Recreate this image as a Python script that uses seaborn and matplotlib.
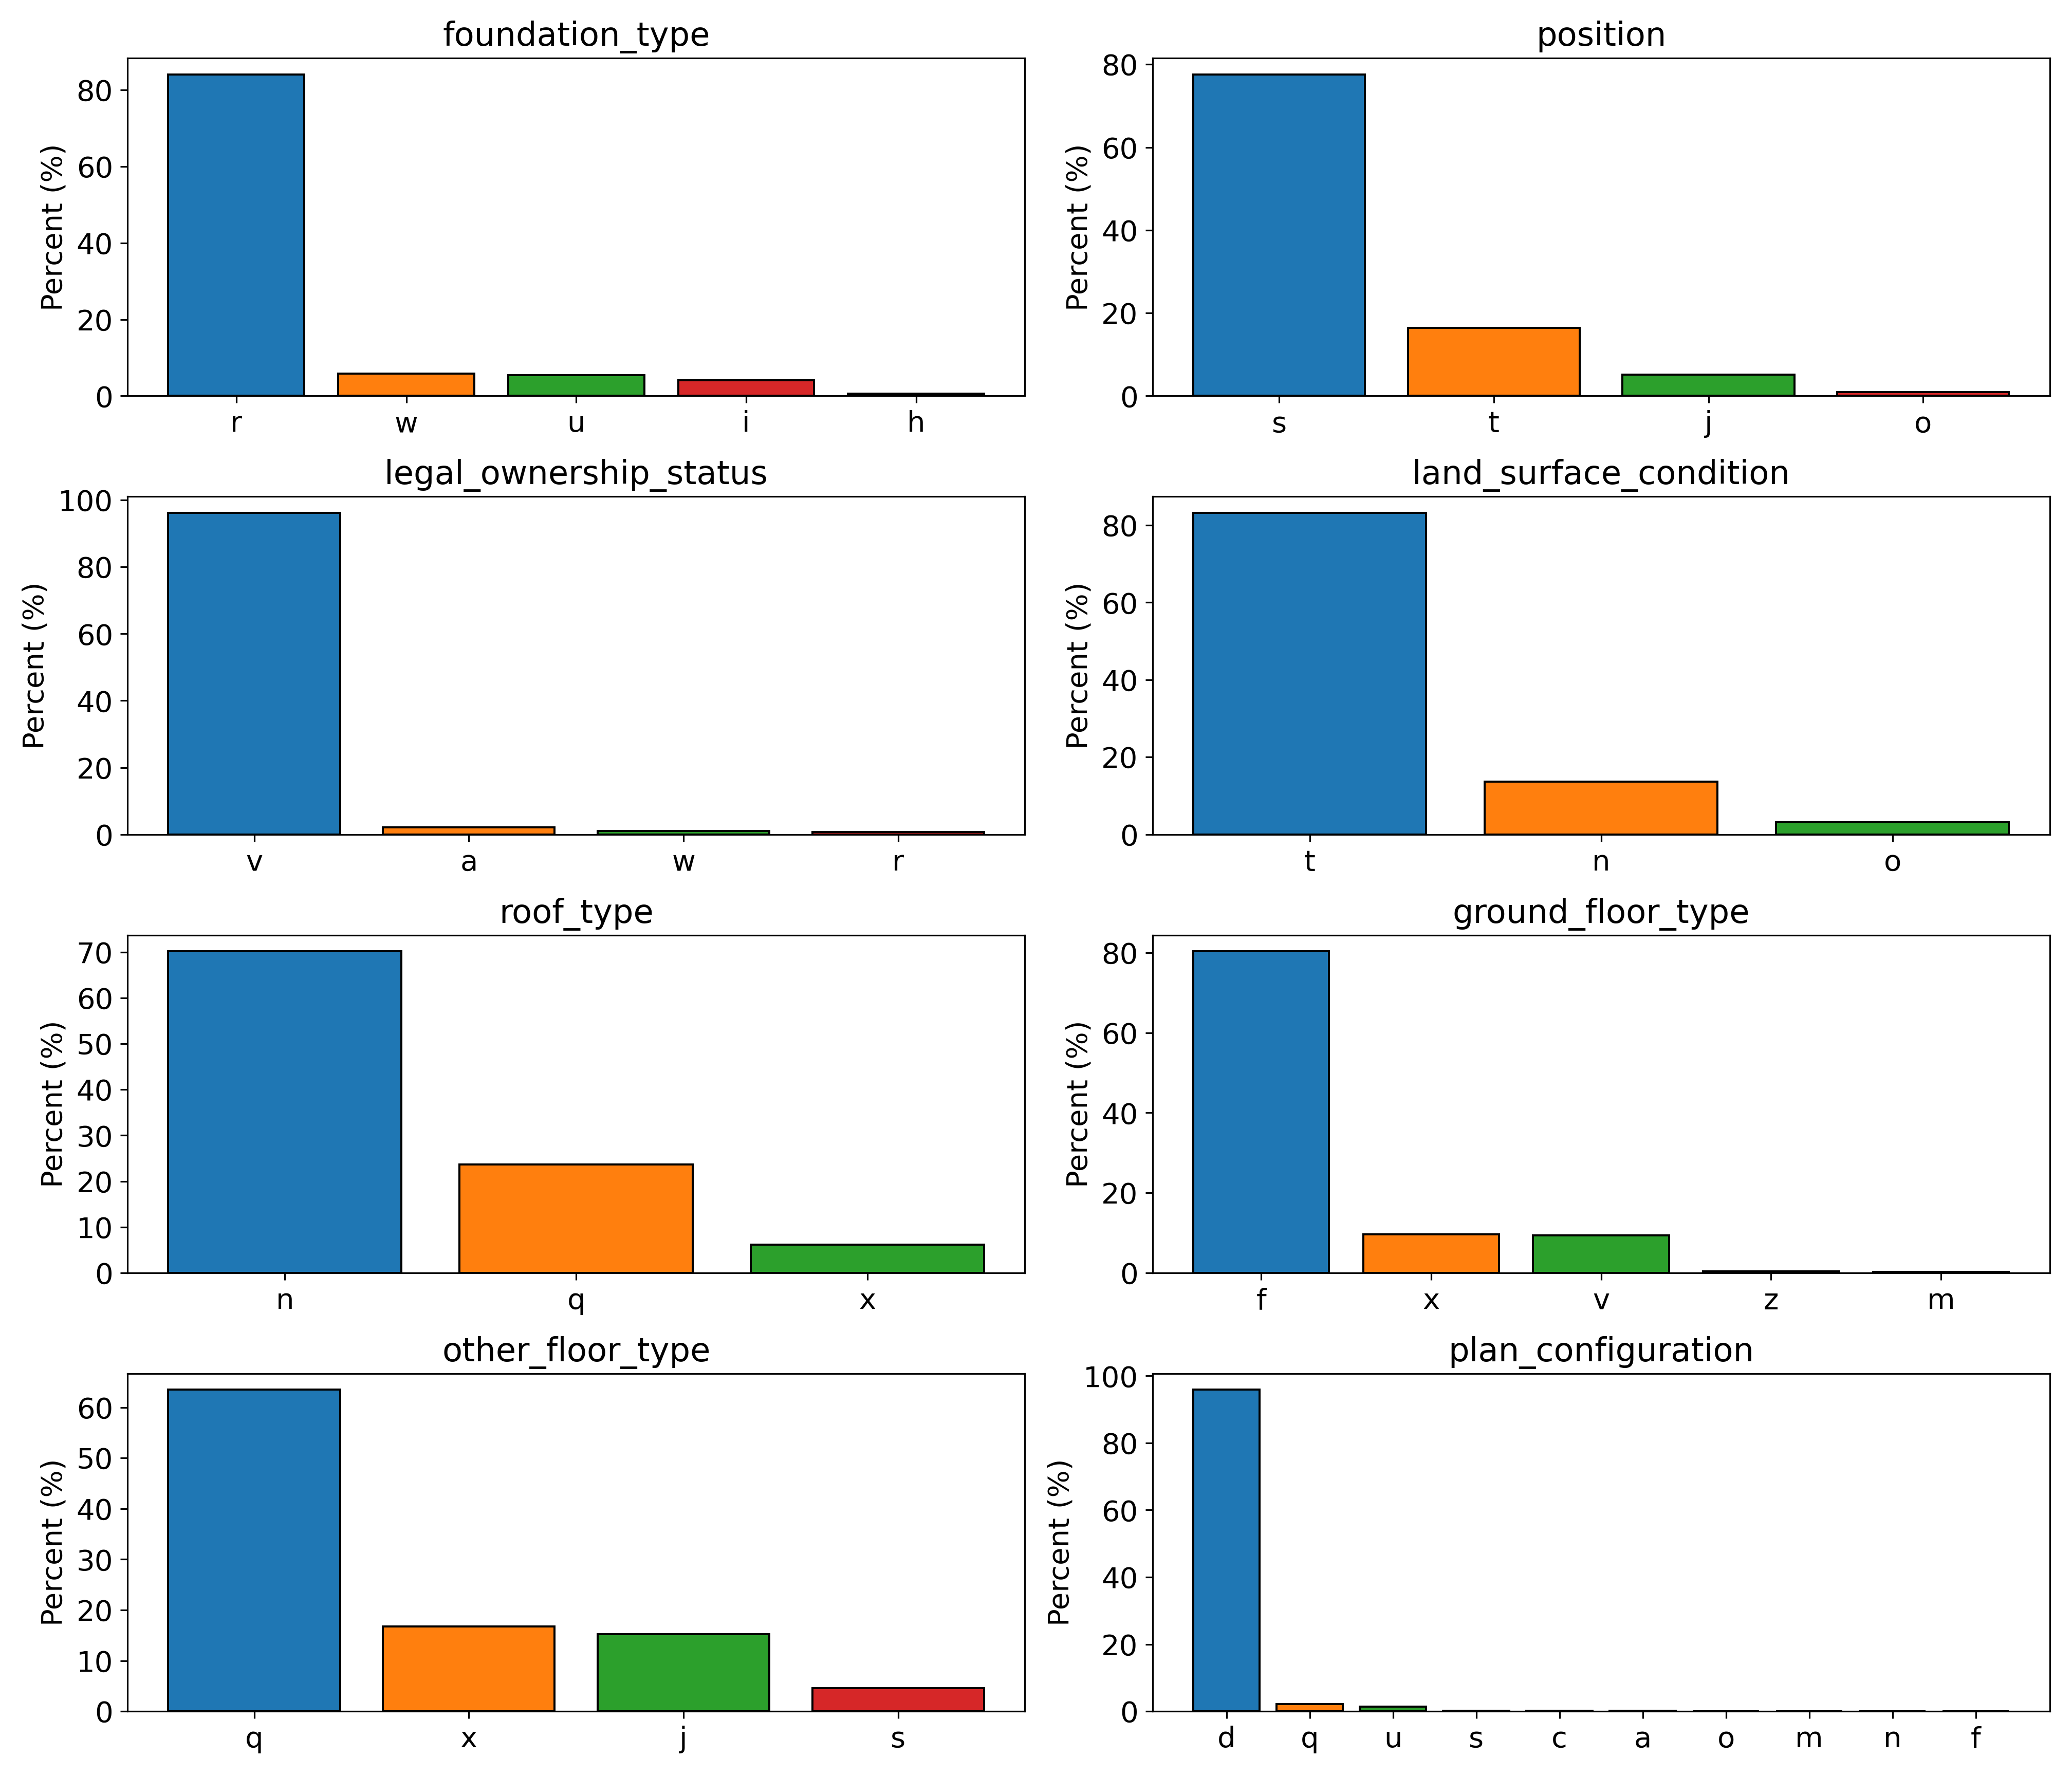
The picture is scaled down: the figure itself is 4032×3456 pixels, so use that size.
import matplotlib
matplotlib.use("Agg")
import matplotlib.pyplot as plt
from matplotlib.ticker import MaxNLocator
import seaborn as sns

# percent of buildings per category
foundation_type = ["r", "w", "u", "i", "h"]
foundation_pct = [84.1, 5.8, 5.5, 4.1, 0.6]

position = ["s", "t", "j", "o"]
position_pct = [77.6, 16.4, 5.1, 0.9]

legal_ownership_status = ["v", "a", "w", "r"]
legal_ownership_pct = [96.2, 2.1, 1.0, 0.7]

land_surface_condition = ["t", "n", "o"]
land_surface_pct = [83.2, 13.7, 3.1]

roof_type = ["n", "q", "x"]
roof_pct = [70.2, 23.6, 6.2]

ground_floor_type = ["f", "x", "v", "z", "m"]
ground_floor_pct = [80.4, 9.6, 9.3, 0.4, 0.2]

other_floor_type = ["q", "x", "j", "s"]
other_floor_pct = [63.5, 16.7, 15.2, 4.6]

plan_configuration = ["d", "q", "u", "s", "c", "a", "o", "m", "n", "f"]
plan_pct = [95.9, 2.2, 1.4, 0.13, 0.13, 0.1, 0.06, 0.02, 0.015, 0.01]

panels = [
    ("foundation_type", foundation_type, foundation_pct),
    ("position", position, position_pct),
    ("legal_ownership_status", legal_ownership_status, legal_ownership_pct),
    ("land_surface_condition", land_surface_condition, land_surface_pct),
    ("roof_type", roof_type, roof_pct),
    ("ground_floor_type", ground_floor_type, ground_floor_pct),
    ("other_floor_type", other_floor_type, other_floor_pct),
    ("plan_configuration", plan_configuration, plan_pct),
]

fig, axes = plt.subplots(4, 2, figsize=(14, 12))
for ax, (name, cats, pct) in zip(axes.flat, panels):
    sns.barplot(x=cats, y=pct, hue=cats, palette="tab10", edgecolor="black",
                linewidth=1, legend=False, ax=ax, saturation=1)
    ax.set_title(name, fontsize=16)
    ax.set_ylabel("Percent (%)", fontsize=14)
    ax.set_xlabel("")
    ax.tick_params(labelsize=14)
    ax.yaxis.set_major_locator(MaxNLocator(nbins=8, steps=[1, 2, 2.5, 5, 10]))
    # same x padding as a plain plt.bar
    n = len(cats)
    pad = 0.05 * (n - 0.2)
    ax.set_xlim(-0.4 - pad, n - 0.6 + pad)

fig.tight_layout()
fig.savefig("out.png", dpi=288)
